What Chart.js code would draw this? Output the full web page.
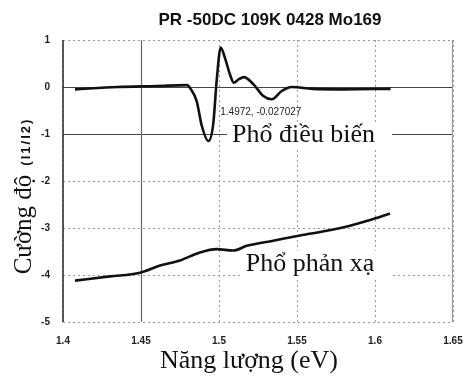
<!DOCTYPE html>
<html>
<head>
<meta charset="utf-8">
<script src="https://cdn.jsdelivr.net/npm/chart.js@4.4.1/dist/chart.umd.min.js"></script>
<style>
  html, body { margin: 0; padding: 0; background: #fff; }
  canvas { display: block; }
</style>
</head>
<body>
<canvas id="chart" width="464" height="376"></canvas>
<script>
// ---- data ----
const modX = [1.4077, 1.435, 1.46, 1.4795, 1.482, 1.4857, 1.489, 1.4932, 1.4963, 1.4985, 1.5011, 1.5038, 1.507, 1.5095, 1.5125, 1.5160, 1.522, 1.5284, 1.5338, 1.5402, 1.5466, 1.56, 1.58, 1.61];
const modY = [-0.05, 0.0, 0.02, 0.04, -0.05, -0.3, -0.83, -1.15, -0.79, 0.13, 0.84, 0.62, 0.27, 0.09, 0.16, 0.21, 0.06, -0.19, -0.26, -0.085, 0.0, -0.04, -0.05, -0.04];

const refX = [1.4077, 1.4301, 1.4494, 1.4622, 1.475, 1.4878, 1.4985, 1.5092, 1.5178, 1.5348, 1.5519, 1.569, 1.584, 1.5968, 1.6096];
const refY = [-4.12, -4.03, -3.95, -3.80, -3.69, -3.52, -3.45, -3.48, -3.38, -3.27, -3.16, -3.06, -2.95, -2.83, -2.69];

const xTickLabels = ['1.4', '1.45', '1.5', '1.55', '1.6', '1.65'];
const yTickLabels = ['-5', '-4', '-3', '-2', '-1', '0', '1'];

const chartTitle = 'PR -50DC 109K 0428 Mo169';
const xTitle = 'Năng lượng (eV)';
const yTitleMain = 'Cường độ';
const yTitleUnit = '(I1/I2)';

// curve names + cursor readout, placed in data units
const curveLabels = [
  { text: 'Phổ điều biến', x: 1.5542, y: -1.17 },
  { text: 'Phổ phản xạ', x: 1.5583, y: -3.91 },
];
const cursorText = '1.4972, -0.027027';
const cursorAt = { x: 1.5008, y: -0.546 };

// solid reference lines (the rest of the grid is dotted)
const solidYLines = [0, -1];
const solidXLines = [1.45];

const toPoints = (xs, ys) => xs.map((v, i) => ({ x: v, y: ys[i] }));

const overlay = {
  id: 'overlay',
  beforeDatasetsDraw(chart) {
    const { ctx, chartArea: a, scales: { x, y } } = chart;
    ctx.save();

    ctx.lineWidth = 1.2;
    ctx.strokeStyle = '#444';
    solidYLines.forEach((v) => {
      const py = Math.round(y.getPixelForValue(v)) + 0.5;
      ctx.beginPath();
      ctx.moveTo(a.left, py);
      ctx.lineTo(a.right, py);
      ctx.stroke();
    });
    ctx.strokeStyle = '#666';
    solidXLines.forEach((v) => {
      const px = Math.round(x.getPixelForValue(v)) + 0.5;
      ctx.beginPath();
      ctx.moveTo(px, a.top);
      ctx.lineTo(px, a.bottom);
      ctx.stroke();
    });

    // frame: dark left axis, grey right edge
    ctx.lineWidth = 1.6;
    ctx.strokeStyle = '#333';
    ctx.beginPath();
    ctx.moveTo(a.left, a.top);
    ctx.lineTo(a.left, a.bottom);
    ctx.stroke();
    ctx.lineWidth = 1.2;
    ctx.strokeStyle = '#999';
    ctx.beginPath();
    ctx.moveTo(a.right - 0.5, a.top);
    ctx.lineTo(a.right - 0.5, a.bottom);
    ctx.stroke();

    // curve names on white boxes
    ctx.font = '26px "Liberation Serif", "DejaVu Serif", serif';
    ctx.textAlign = 'left';
    ctx.textBaseline = 'alphabetic';
    curveLabels.forEach((l) => {
      const w = ctx.measureText(l.text).width;
      const px = x.getPixelForValue(l.x) - w / 2;
      const py = y.getPixelForValue(l.y);
      ctx.fillStyle = '#fff';
      ctx.fillRect(px - 5, py - 20, w + 22, 27);
      ctx.fillStyle = '#111';
      ctx.fillText(l.text, px, py);
    });

    // cursor readout
    ctx.font = '10px "Liberation Sans", Arial, sans-serif';
    ctx.textBaseline = 'middle';
    ctx.fillStyle = '#222';
    ctx.fillText(cursorText, x.getPixelForValue(cursorAt.x), y.getPixelForValue(cursorAt.y));
    ctx.restore();
  },
  afterDraw(chart) {
    const { ctx } = chart;
    ctx.save();
    ctx.fillStyle = '#111';

    // title
    ctx.font = 'bold 17px "Liberation Sans", Arial, sans-serif';
    ctx.textAlign = 'center';
    ctx.textBaseline = 'middle';
    ctx.fillText(chartTitle, 270, 20);

    // x title
    ctx.font = '26px "Liberation Serif", "DejaVu Serif", serif';
    ctx.textBaseline = 'alphabetic';
    ctx.fillText(xTitle, 249, 368);

    // y title: serif words + small bold unit, rotated
    ctx.translate(31, 196);
    ctx.rotate(-Math.PI / 2);
    ctx.textAlign = 'left';
    const mainFont = '25px "Liberation Serif", "DejaVu Serif", serif';
    const unitFont = 'bold 13px "Liberation Sans", Arial, sans-serif';
    ctx.font = mainFont;
    const w1 = ctx.measureText(yTitleMain).width;
    ctx.font = unitFont;
    ctx.letterSpacing = '2px';
    const w2 = ctx.measureText(yTitleUnit).width;
    const gap = 9;
    const start = -(w1 + gap + w2) / 2;
    ctx.fillText(yTitleUnit, start + w1 + gap, -1);
    ctx.letterSpacing = '0px';
    ctx.font = mainFont;
    ctx.fillText(yTitleMain, start, 0);
    ctx.restore();
  },
};

const tickFont = { family: '"Liberation Sans", Arial, sans-serif', size: 10, weight: 'bold' };

new Chart(document.getElementById('chart'), {
  type: 'line',
  data: {
    datasets: [
      {
        label: 'Phổ điều biến',
        data: toPoints(modX, modY),
        borderColor: '#111',
        borderWidth: 2.6,
        pointRadius: 0,
        cubicInterpolationMode: 'monotone',
      },
      {
        label: 'Phổ phản xạ',
        data: toPoints(refX, refY),
        borderColor: '#111',
        borderWidth: 2.6,
        pointRadius: 0,
        cubicInterpolationMode: 'monotone',
      },
    ],
  },
  options: {
    responsive: false,
    animation: false,
    layout: { padding: { top: 40, right: 0, left: 0, bottom: 0 } },
    plugins: {
      legend: { display: false },
      tooltip: { enabled: false },
    },
    scales: {
      x: {
        type: 'linear',
        min: 1.4,
        max: 1.65,
        afterFit: (s) => { s.height = 54; s.paddingRight = 11; s.paddingLeft = 0; },
        ticks: {
          stepSize: 0.05,
          padding: 13,
          color: '#222',
          font: tickFont,
          maxRotation: 0,
          callback: (v, i) => xTickLabels[i],
        },
        grid: { color: '#9a9a9a', lineWidth: 1, drawTicks: false },
        border: { display: false, dash: [2, 3] },
      },
      y: {
        min: -5,
        max: 1,
        afterFit: (s) => { s.width = 63; },
        ticks: {
          stepSize: 1,
          padding: 13,
          color: '#222',
          font: tickFont,
          callback: (v, i) => yTickLabels[i],
        },
        grid: { color: '#9a9a9a', lineWidth: 1, drawTicks: false },
        border: { display: false, dash: [2, 3] },
      },
    },
  },
  plugins: [overlay],
});
</script>
</body>
</html>
